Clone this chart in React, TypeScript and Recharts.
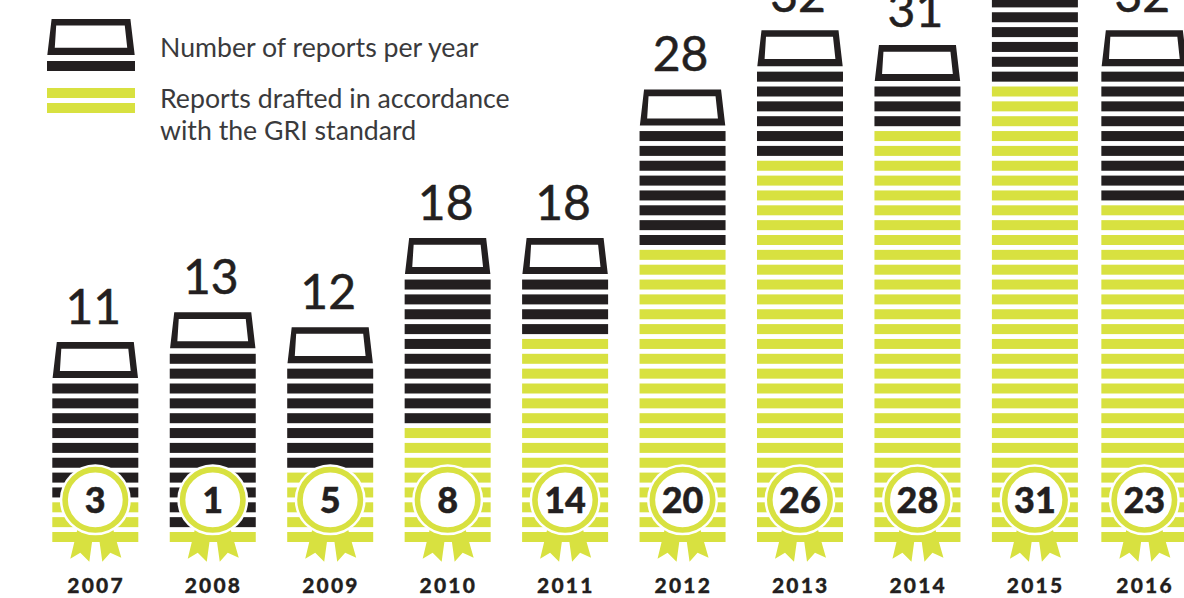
import React from "react";
import { ComposedChart, Bar, XAxis, YAxis } from "recharts";

const years = ["2007", "2008", "2009", "2010", "2011", "2012", "2013", "2014", "2015", "2016"];
const totalReports = [11, 13, 12, 18, 18, 28, 32, 31, 37, 32];
const griReports = [3, 1, 5, 8, 14, 20, 26, 28, 31, 23];

const rows = years.map((year, i) => ({ year, total: totalReports[i], gri: griReports[i] }));

const INK = "#231f20";
const LIME = "#d8e140";
const TEXT = "#3a3a3c";
const STRIPE_RATIO = 10 / 14.85;
const LAST_SHIFT = -8;
const shiftOf = (i: number) => (i === years.length - 1 ? LAST_SHIFT : 0);

function capPath(x: number, t: number, w = 86) {
  const k = w / 86;
  const X = (d: number) => x + d * k;
  return (
    `M${X(0.3)} ${t - 5.5}L${X(4.5)} ${t - 41.5}L${X(81.5)} ${t - 41.5}L${X(85.7)} ${t - 5.5}Z` +
    `M${X(7.6)} ${t - 12.6}L${X(78.4)} ${t - 12.6}L${X(76)} ${t - 34.8}L${X(9)} ${t - 34.8}Z`
  );
}

function TotalStack(props: any) {
  const { x, y, width, height, index, payload } = props;
  const pitch = height / payload.total;
  const left = x + shiftOf(index);
  const stripes = [];
  for (let k = 0; k < payload.total - payload.gri; k++) {
    stripes.push(
      <rect key={k} x={left} y={y + k * pitch} width={width} height={pitch * STRIPE_RATIO} fill={INK} />
    );
  }
  return (
    <g>
      {stripes}
      <path d={capPath(left, y)} fill={INK} fillRule="evenodd" />
      <text
        x={left + width / 2 - 2}
        y={y - 60}
        textAnchor="middle"
        fontFamily="Lato"
        fontSize={48}
        stroke={INK}
        strokeWidth={0.5}
        fill={INK}
      >
        {payload.total}
      </text>
    </g>
  );
}

function GriStack(props: any) {
  const { x, y, width, height, index, payload } = props;
  const pitch = height / payload.gri;
  const left = x + shiftOf(index);
  const cx = left + width / 2;
  const cy = y + height - 47;
  const stripes = [];
  for (let k = 0; k < payload.gri; k++) {
    stripes.push(
      <rect key={k} x={left} y={y + k * pitch} width={width} height={pitch * STRIPE_RATIO} fill={LIME} />
    );
  }
  const pts = (list: number[][]) => list.map(([a, b]) => `${cx + a},${cy + b}`).join(" ");
  return (
    <g>
      {stripes}
      <polygon points={pts([[-18, 30], [-25, 59], [-15, 53], [-6, 62], [-2, 33]])} fill={LIME} />
      <polygon points={pts([[18, 30], [26, 58], [15, 53], [7, 62], [3, 33]])} fill={LIME} />
      <circle cx={cx} cy={cy} r={35.5} fill="#fff" />
      <circle cx={cx} cy={cy} r={30.2} fill="#fff" stroke={LIME} strokeWidth={5.6} />
      <text
        x={cx}
        y={cy + 13}
        textAnchor="middle"
        fontFamily="Lato"
        fontWeight={900}
        fontSize={36}
        stroke={INK}
        strokeWidth={0.4}
        fill={INK}
      >
        {payload.gri}
      </text>
    </g>
  );
}

function YearTick(props: any) {
  const { x, y, index, payload } = props;
  return (
    <text
      x={x + shiftOf(index) + 1}
      y={y}
      textAnchor="middle"
      fontFamily="Lato"
      fontWeight={900}
      fontSize={21}
      letterSpacing={2.2}
      stroke={INK}
      strokeWidth={0.3}
      fill={INK}
    >
      {payload.value}
    </text>
  );
}

function ChartLegend() {
  const labels = ["Number of reports per year", "Reports drafted in accordance", "with the GRI standard"];
  const base: React.CSSProperties = {
    position: "absolute",
    left: 160,
    fontFamily: "Lato",
    fontSize: 26.7,
    lineHeight: "32px",
    color: TEXT,
    whiteSpace: "nowrap",
  };
  return (
    <>
      <svg width={150} height={120} style={{ position: "absolute", left: 0, top: 0 }}>
        <path d={capPath(47, 60.4, 88)} fill={INK} fillRule="evenodd" />
        <rect x={47} y={61} width={88} height={10} fill={INK} />
        <rect x={47} y={88} width={88} height={10} fill={LIME} />
        <rect x={47} y={103} width={88} height={10} fill={LIME} />
      </svg>
      <div style={{ ...base, top: 31 }}>{labels[0]}</div>
      <div style={{ ...base, top: 82 }}>{labels[1]}</div>
      <div style={{ ...base, top: 114 }}>{labels[2]}</div>
    </>
  );
}

export default function App() {
  return (
    <div style={{ position: "absolute", left: 0, top: 0, width: 1184, height: 598, overflow: "hidden", background: "#fff" }}>
      <ComposedChart
        width={1184}
        height={598}
        data={rows}
        barSize={86}
        barGap={-86}
        margin={{ top: -47.15, right: -26.8, bottom: 21.15, left: 36.3 }}
      >
        <XAxis
          dataKey="year"
          axisLine={false}
          tickLine={false}
          interval={0}
          height={30}
          tick={<YearTick />}
          tickMargin={40}
        />
        <YAxis hide domain={[0, 40]} />
        <Bar dataKey="total" isAnimationActive={false} shape={<TotalStack />} />
        <Bar dataKey="gri" isAnimationActive={false} shape={<GriStack />} />
      </ComposedChart>
      <ChartLegend />
    </div>
  );
}
